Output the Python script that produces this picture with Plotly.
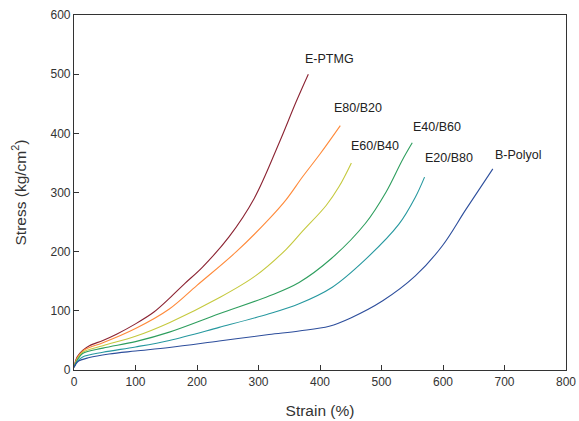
import plotly.graph_objects as go

names = ["E-PTMG", "E80/B20", "E60/B40", "E40/B60", "E20/B80", "B-Polyol"]
colors = ["#8B2332", "#FF8A3A", "#C5C93E", "#2E9E5E", "#26989F", "#2D4E9C"]

ptmg_x = [0, 5, 14, 25, 47, 70, 100, 130, 155, 180, 209, 252, 293, 334, 361, 381]
ptmg_y = [5, 22, 33, 41, 50, 61, 78, 98, 121, 146, 174, 225, 290, 385, 453, 500]

e80_x = [0, 5, 14, 25, 47, 100, 155, 200, 264, 317, 345, 372, 400, 433]
e80_y = [5, 20, 32, 38, 46, 70, 103, 143, 200, 255, 288, 327, 365, 413]

e60_x = [0, 5, 14, 47, 100, 155, 236, 295, 345, 372, 410, 431, 451]
e60_y = [5, 18, 30, 41, 57, 80, 122, 159, 204, 235, 278, 310, 350]

e40_x = [0, 5, 14, 47, 100, 155, 236, 317, 366, 418, 474, 507, 534, 550]
e40_y = [5, 16, 28, 37, 48, 64, 95, 125, 148, 188, 248, 300, 355, 384]

e20_x = [0, 5, 14, 47, 100, 155, 236, 317, 366, 420, 474, 528, 555, 570]
e20_y = [5, 14, 22, 30, 39, 50, 72, 95, 112, 140, 187, 246, 292, 326]

bp_x = [0, 6, 25, 57, 100, 155, 236, 317, 366, 415, 450, 502, 555, 599, 637, 681]
bp_y = [4, 14, 21, 27, 32, 38, 49, 60, 66, 74, 88, 117, 159, 210, 271, 340]

label_x = [372, 420, 447, 548, 567, 681]
label_y = [526, 443, 378, 411, 358, 364]

series_x = [ptmg_x, e80_x, e60_x, e40_x, e20_x, bp_x]
series_y = [ptmg_y, e80_y, e60_y, e40_y, e20_y, bp_y]

FONT = "Liberation Sans, Arial"

fig = go.Figure()
for n, c, xs, ys in zip(names, colors, series_x, series_y):
    fig.add_trace(go.Scatter(x=xs, y=ys, mode="lines", name=n,
                             line=dict(color=c, width=1.1, shape="spline", smoothing=1.0)))

for n, lx, ly in zip(names, label_x, label_y):
    fig.add_annotation(x=lx, y=ly, text=n, showarrow=False, xanchor="left", yanchor="middle",
                       font=dict(family=FONT, size=12.5, color="#222222"))

axis_common = dict(showgrid=False, zeroline=False, showline=True, linecolor="#333333",
                   linewidth=1.2, mirror=True, ticks="inside", ticklen=5, tickcolor="#333333",
                   automargin=False,
                   tickfont=dict(family=FONT, size=12, color="#333333"))

fig.update_xaxes(range=[0, 800], dtick=100,
                 title=dict(text="Strain (%)", font=dict(family=FONT, size=15.5, color="#333333"), standoff=17),
                 **axis_common)
fig.update_yaxes(range=[0, 600], dtick=100,
                 title=dict(text="Stress (kg/cm<sup>2</sup>)", font=dict(family=FONT, size=15.5, color="#333333"), standoff=20),
                 **axis_common)

fig.update_layout(width=579, height=421, margin=dict(l=74, r=13, t=15, b=51),
                  paper_bgcolor="white", plot_bgcolor="white", showlegend=False)

# remove the page's default body margin so the figure sits exactly in the window
fig.write_html("out.html", config={"displayModeBar": False},
               post_script="document.body.style.margin='0';document.body.style.overflow='hidden';")
